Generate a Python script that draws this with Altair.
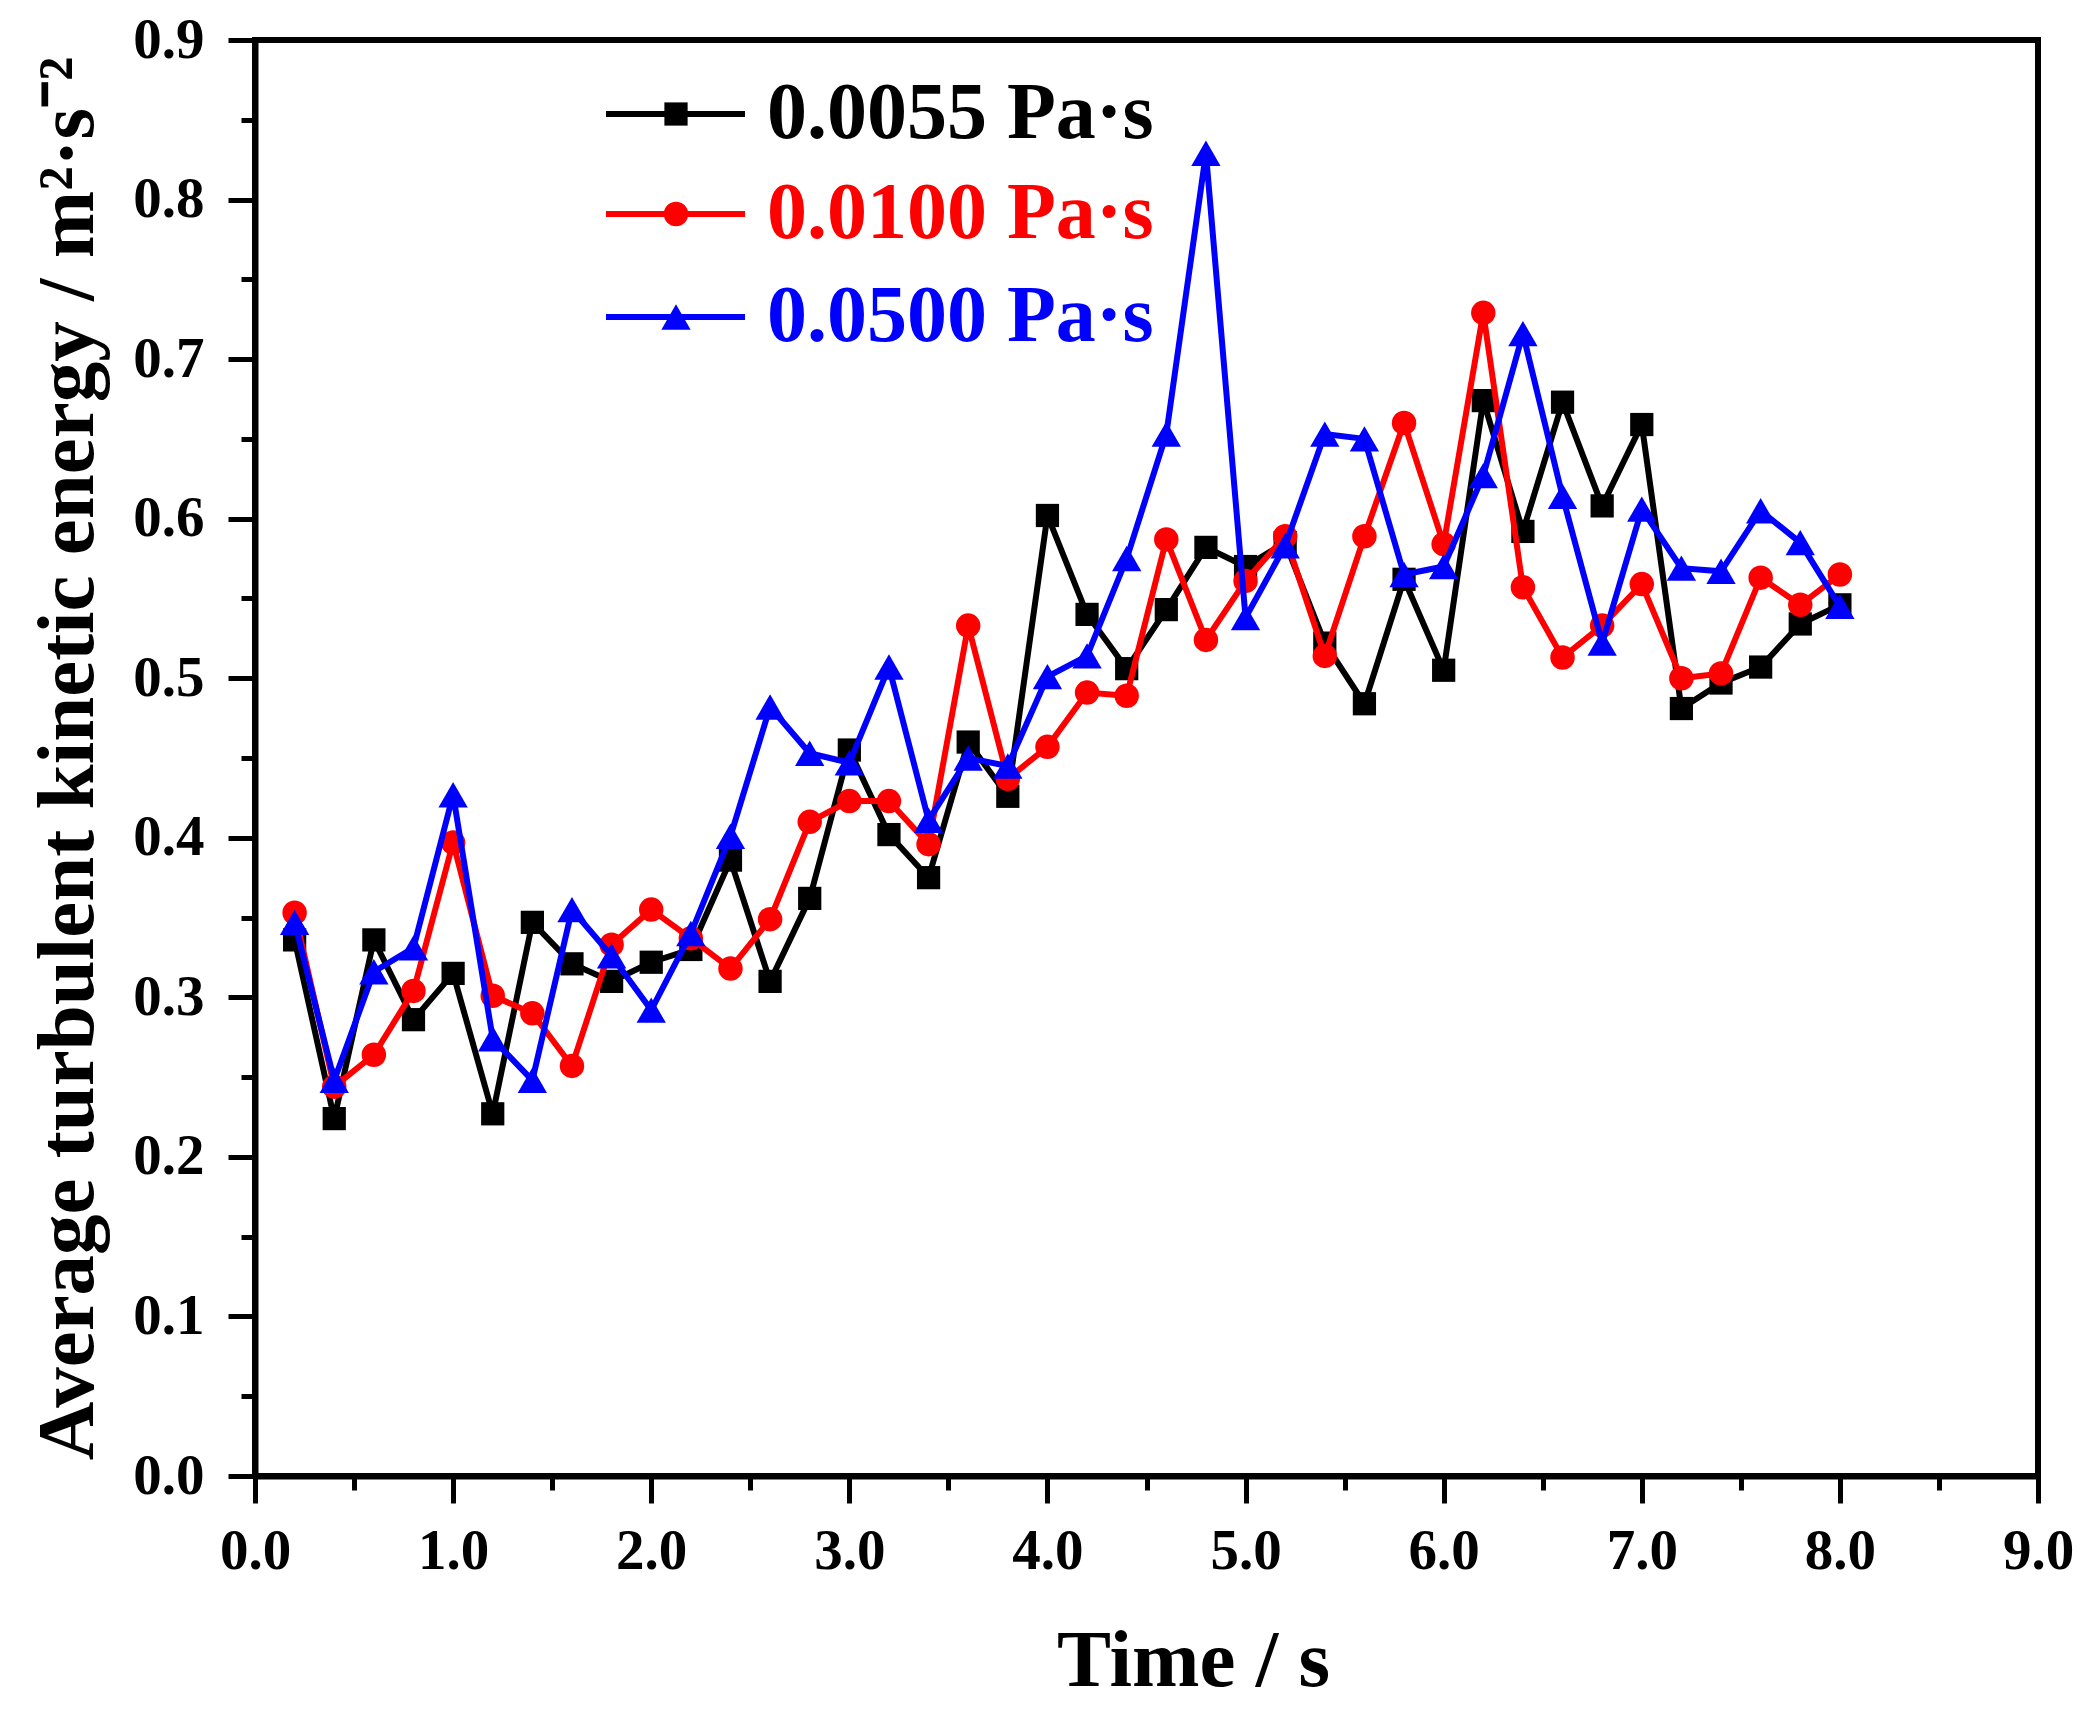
import altair as alt
import pandas as pd

time = [0.2, 0.4, 0.6, 0.8, 1.0, 1.2, 1.4, 1.6, 1.8, 2.0,
        2.2, 2.4, 2.6, 2.8, 3.0, 3.2, 3.4, 3.6, 3.8, 4.0,
        4.2, 4.4, 4.6, 4.8, 5.0, 5.2, 5.4, 5.6, 5.8, 6.0,
        6.2, 6.4, 6.6, 6.8, 7.0, 7.2, 7.4, 7.6, 7.8, 8.0]

tke_0055 = [0.336, 0.224, 0.336, 0.286, 0.315, 0.227, 0.347, 0.321, 0.310, 0.322,
            0.330, 0.386, 0.310, 0.362, 0.455, 0.402, 0.375, 0.460, 0.426, 0.602,
            0.540, 0.506, 0.543, 0.582, 0.570, 0.585, 0.522, 0.484, 0.562, 0.505,
            0.674, 0.592, 0.673, 0.608, 0.659, 0.481, 0.497, 0.507, 0.534, 0.546]

tke_0100 = [0.353, 0.244, 0.264, 0.304, 0.397, 0.301, 0.290, 0.257, 0.333, 0.355,
            0.337, 0.318, 0.349, 0.410, 0.423, 0.423, 0.396, 0.533, 0.437, 0.457,
            0.491, 0.489, 0.587, 0.524, 0.561, 0.589, 0.514, 0.589, 0.660, 0.584,
            0.729, 0.557, 0.513, 0.533, 0.559, 0.500, 0.503, 0.563, 0.546, 0.565]

tke_0500 = [0.347, 0.248, 0.316, 0.331, 0.427, 0.274, 0.248, 0.355, 0.326, 0.292,
            0.340, 0.401, 0.482, 0.453, 0.447, 0.507, 0.411, 0.450, 0.445, 0.501,
            0.514, 0.575, 0.653, 0.829, 0.538, 0.583, 0.653, 0.650, 0.565, 0.570,
            0.627, 0.716, 0.614, 0.522, 0.606, 0.569, 0.567, 0.605, 0.585, 0.545]

series_labels = ["0.0055 Pa·s", "0.0100 Pa·s", "0.0500 Pa·s"]
series_colors = ["#000000", "#ff0000", "#0000ff"]
series_shapes = ["square", "circle", "triangle-up"]
series_sizes = [540, 600, 860]
series_values = [tke_0055, tke_0100, tke_0500]

FONT = "Liberation Serif"

x_ticks = [i * 0.5 for i in range(19)]
y_ticks = [round(i * 0.05, 2) for i in range(19)]

x_scale = alt.Scale(domain=[0, 9], nice=False, zero=False)
y_scale = alt.Scale(domain=[0, 0.9], nice=False, zero=False)

x_major = "datum.value % 1 == 0"
y_major = "abs(datum.value*10 - round(datum.value*10)) < 0.001"

x_axis = alt.Axis(
    values=x_ticks,
    labelExpr=f"{x_major} ? format(datum.value, '.1f') : ''",
    tickSize={"condition": {"test": x_major, "value": 27}, "value": 14},
    labelPadding=20,
    title="Time / s",
    titleX=938, titleY=209, titleBaseline="alphabetic", titleAlign="center", titleAngle=0,
    grid=False,
)
y_axis = alt.Axis(
    values=y_ticks,
    labelExpr=f"{y_major} ? format(datum.value, '.1f') : ''",
    tickSize={"condition": {"test": y_major, "value": 27}, "value": 14},
    labelPadding=24,
    title="Average turbulent kinetic energy / m²·s⁻²",
    titleX=-163, titleY=718, titleBaseline="alphabetic", titleAlign="center", titleAngle=270,
    grid=False,
)

layers = []
for i, (lab, vals) in enumerate(zip(series_labels, series_values)):
    df = pd.DataFrame({"time": time, "tke": vals, "series": lab})
    base = alt.Chart(df).encode(
        x=alt.X("time:Q", scale=x_scale, axis=x_axis),
        y=alt.Y("tke:Q", scale=y_scale, axis=y_axis),
    )
    line = base.mark_line(strokeWidth=6, color=series_colors[i])
    pts = base.mark_point(filled=True, opacity=1, shape=series_shapes[i],
                          size=series_sizes[i], color=series_colors[i])
    layers += [line, pts]

# legend (drawn manually, Origin style: line + marker + coloured label)
legend_rows_y = [74, 174, 277]
for i, lab in enumerate(series_labels):
    ldf = pd.DataFrame({"label": [lab]})
    lb = alt.Chart(ldf)
    yv = alt.value(legend_rows_y[i])
    layers.append(lb.mark_rule(strokeWidth=6, color=series_colors[i]).encode(
        x=alt.value(351), x2=alt.value(490), y=yv))
    layers.append(lb.mark_point(filled=True, opacity=1, shape=series_shapes[i],
                                size=series_sizes[i], color=series_colors[i]).encode(
        x=alt.value(421), y=yv))
    layers.append(lb.mark_text(align="left", baseline="middle", font=FONT,
                               fontWeight="bold", fontSize=80,
                               color=series_colors[i]).encode(
        x=alt.value(512), y=yv, text=alt.Text("label:N")))

chart = alt.layer(*layers).properties(
    width=1783, height=1436,
    autosize=alt.AutoSizeParams(type="none"),
    padding={"left": 247, "top": 32, "right": 40, "bottom": 230},
    background="white",
).configure_view(
    stroke="black", strokeWidth=6
).configure_axis(
    domainColor="black", domainWidth=6, tickColor="black", tickWidth=5,
    labelFont=FONT, labelFontWeight="bold", labelFontSize=57, labelColor="black",
    titleFont=FONT, titleFontWeight="bold", titleFontSize=81, titleColor="black",
    labelOverlap=False, labelFlush=False,
)

chart.save("out.html", embed_options={"renderer": "svg", "actions": False})
